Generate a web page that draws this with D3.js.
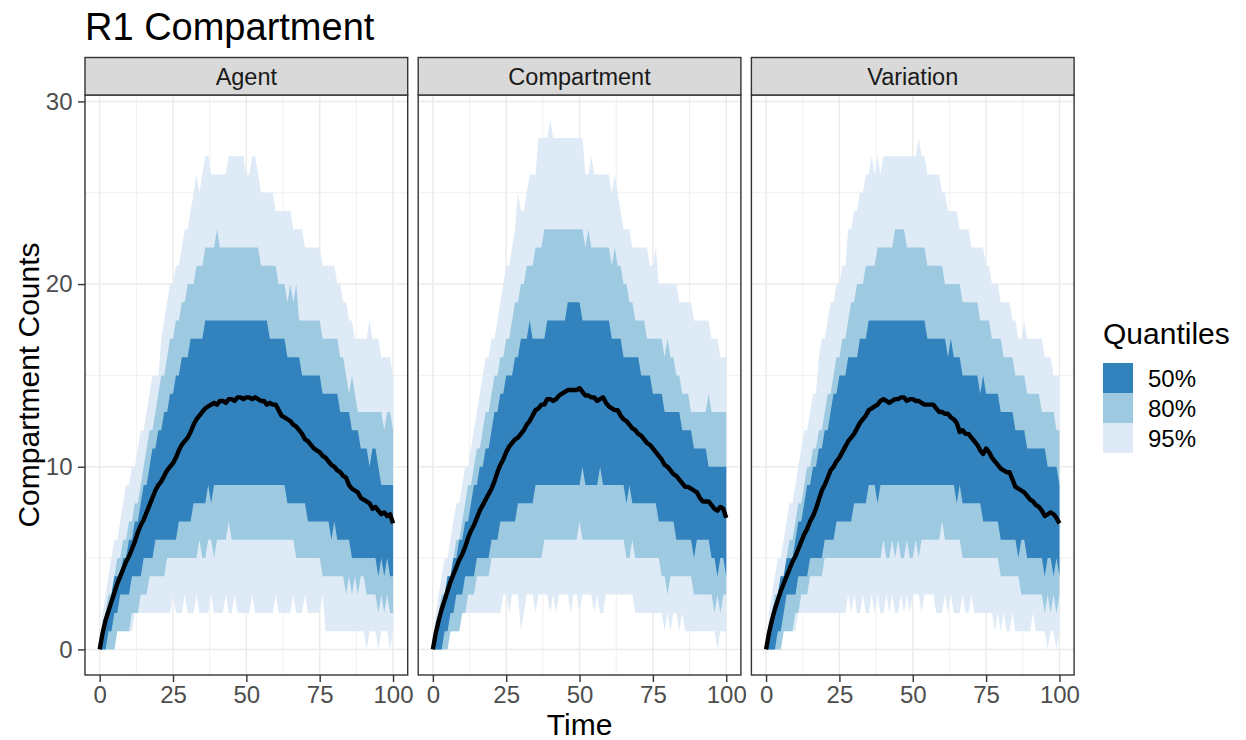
<!DOCTYPE html>
<html>
<head>
<meta charset="utf-8">
<script src="https://cdn.jsdelivr.net/npm/d3@7"></script>
<style>
  body { margin: 0; background: #ffffff; }
  svg text { font-family: "Liberation Sans", Arial, Helvetica, sans-serif; }
</style>
</head>
<body>
<div id="chart"></div>
<script>
var facets = ["Agent", "Compartment", "Variation"];
var quantileLabels = ["50%", "80%", "95%"];
var quantileColors = ["#3182BD", "#9ECAE1", "#DEEBF7"];
var xTicks = [0, 25, 50, 75, 100];
var yTicks = [0, 10, 20, 30];
var time = d3.range(0, 101);

// Agent facet
var agentHi95 = [0,2,3,4,5,6,6,7,8,9, 9,10,10,11,12,12,13,14,15,15, 15,17,18,19,20,20,21,21,22,23, 23,24,25,26,25,26,27,27,26,26, 26,26,26,26,27,27,27,27,27,27, 26,26,27,27,26,25,25,25,25,25, 24,24,24,24,24,24,23,23,23,23, 22,22,22,22,22,22,21,21,21,21, 21,20,20,19,19,18,18,17,17,17, 17,17,18,17,17,17,16,16,16,16,15];
var agentHi80 = [0,1,2,3,3,4,5,5,6,6, 7,7,8,8,9,10,11,12,12,13, 14,15,15,16,17,17,18,18,19,19, 20,20,20,21,21,21,22,22,22,22, 23,22,22,22,22,22,22,22,22,22, 22,22,22,22,22,21,21,21,21,21, 21,20,20,20,19,20,19,20,18,18, 18,18,18,18,18,18,17,17,17,17, 17,17,16,16,15,14,15,14,13,13, 13,13,13,13,13,13,13,12,13,13,12];
var agentHi50 = [0,1,2,2,3,4,4,4,5,5, 6,6,7,7,8,9,9,10,11,11, 12,12,13,13,14,14,15,15,16,16, 16,17,17,17,17,17,18,18,18,18, 18,18,18,18,18,18,18,18,18,18, 18,18,18,18,18,18,18,18,17,17, 17,17,17,17,16,16,16,16,16,15, 15,15,15,15,15,15,14,14,14,14, 14,14,13,13,13,13,12,12,12,11, 11,11,10,11,11,10,9,9,9,9,9];
var agentLo50 = [0,0,0,1,1,2,2,3,3,3, 3,4,4,4,4,5,5,5,5,6, 6,6,6,6,6,6,6,7,7,7, 7,7,8,8,8,8,8,9,8,9, 9,9,9,9,9,9,9,9,9,9, 9,9,9,9,9,9,9,9,9,9, 9,9,9,9,8,8,8,8,8,8, 8,7,7,7,7,7,7,7,7,6, 7,6,6,6,6,6,5,5,5,5, 5,5,5,5,5,4,5,4,5,4,4];
var agentLo80 = [0,0,0,0,0,0,1,1,1,1, 1,2,2,2,3,3,3,4,4,4, 4,4,4,5,5,5,5,5,5,5, 5,5,5,5,6,5,5,6,6,5, 6,6,6,6,7,6,6,6,6,6, 6,6,6,6,6,6,6,6,6,6, 6,6,6,6,6,6,6,5,5,5, 5,5,5,5,5,5,4,4,4,4, 4,4,4,4,3,4,3,4,3,4, 4,3,3,3,3,2,3,2,3,2,2];
var agentLo95 = [0,0,0,0,0,0,1,1,1,1, 1,1,2,2,2,2,2,2,2,2, 2,2,2,2,2,3,2,2,2,3, 2,2,2,3,2,2,2,2,3,2, 2,2,2,3,2,2,3,2,2,2, 2,2,3,2,2,2,2,2,2,2, 3,2,2,2,2,2,3,2,2,2, 3,2,2,2,2,2,3,1,1,1, 1,1,1,1,1,1,1,1,1,1, 1,0,1,1,1,0,1,1,1,0,1];
var agentMean = [0,0.9,1.6,2.1,2.6,3.1,3.6,4.0,4.4,4.8, 5.1,5.5,5.9,6.4,6.8,7.1,7.5,7.9,8.3,8.7, 9.0,9.2,9.5,9.8,10.0,10.2,10.5,10.9,11.2,11.4, 11.6,11.9,12.3,12.6,12.8,13.0,13.2,13.3,13.4,13.5, 13.4,13.6,13.6,13.5,13.7,13.7,13.6,13.8,13.8,13.7, 13.8,13.8,13.7,13.8,13.7,13.6,13.6,13.4,13.5,13.4, 13.4,13.1,12.8,12.7,12.6,12.5,12.3,12.2,12.0,11.8, 11.5,11.4,11.2,11.0,10.9,10.8,10.6,10.5,10.3,10.1, 10.0,9.8,9.7,9.5,9.4,9.0,8.8,8.7,8.6,8.3, 8.2,8.1,8.0,7.7,7.8,7.6,7.4,7.5,7.3,7.4,6.9];

// Compartment facet
var compHi95 = [0,2,3,4,5,5,6,7,8,8, 9,10,10,11,12,13,14,15,16,16, 17,17,18,19,20,21,21,22,23,25, 24,24,25,26,26,26,28,28,28,28, 29,28,28,28,28,28,28,28,28,28, 28,28,26,26,27,26,26,26,26,26, 26,25,26,25,24,23,23,23,22,22, 22,22,22,22,21,21,22,20,20,20, 20,20,20,20,19,19,19,19,19,18, 18,18,18,18,18,17,17,17,16,16,16];
var compHi80 = [0,1,2,3,3,4,4,5,6,6, 7,8,9,9,10,11,11,12,13,13, 14,15,15,16,16,17,17,18,19,19, 20,20,21,21,21,22,22,22,23,23, 23,23,23,23,23,23,23,23,23,23, 23,23,22,23,22,22,22,22,22,22, 22,21,22,21,21,20,20,19,19,18, 18,18,18,17,17,17,17,17,17,16, 17,16,16,15,15,14,14,14,13,13, 13,13,13,13,14,13,13,13,13,13,13];
var compHi50 = [0,1,2,2,3,4,4,5,5,6, 6,7,7,8,9,9,10,10,11,11, 12,13,13,14,14,15,15,15,16,16, 17,17,17,18,17,17,17,17,17,18, 18,18,18,18,18,18,19,19,19,19, 19,18,18,18,18,18,18,18,18,18, 18,17,17,17,17,16,16,16,16,16, 16,15,15,15,15,14,14,14,14,13, 13,13,13,13,13,12,12,12,12,11, 11,11,11,11,10,10,10,10,10,10,10];
var compLo50 = [0,0,0,0,1,1,2,2,3,3, 3,4,4,4,4,5,5,5,5,5, 6,6,6,7,7,7,7,7,7,8, 8,8,8,8,8,9,9,9,9,9, 9,9,9,9,9,9,9,9,9,9, 9,10,9,9,9,9,9,10,9,9, 9,9,9,9,9,9,8,9,8,8, 8,8,8,8,8,8,8,7,7,7, 7,7,7,6,6,6,6,6,6,5, 6,6,6,6,6,5,5,4,5,5,4];
var compLo80 = [0,0,0,0,0,0,1,1,1,1, 2,2,3,3,3,4,4,4,4,4, 5,5,5,5,5,5,5,5,5,5, 5,5,5,5,5,5,5,5,6,6, 6,6,6,6,6,6,6,6,6,6, 7,6,6,6,6,6,6,6,6,6, 6,6,6,6,6,6,5,5,6,5, 5,5,5,5,5,5,5,5,4,4, 3,4,4,4,4,4,4,4,4,3, 3,3,3,3,3,3,2,3,2,3,3];
var compLo95 = [0,0,0,0,0,0,1,1,1,1, 2,2,2,2,2,2,2,2,2,2, 2,2,2,2,3,3,2,3,3,3, 1,2,3,3,3,2,3,3,3,3, 2,3,2,3,3,3,3,2,3,3, 2,3,3,3,3,2,3,2,2,3, 3,3,3,3,3,3,3,3,3,2, 2,2,2,2,2,2,2,2,2,1, 2,1,2,2,1,2,1,1,1,1, 1,1,1,1,1,1,1,0,1,1,1];
var compMean = [0,0.9,1.6,2.2,2.7,3.2,3.7,4.1,4.5,4.9, 5.2,5.6,6.1,6.5,6.8,7.2,7.6,7.9,8.2,8.5, 8.8,9.2,9.7,10.1,10.4,10.8,11.1,11.3,11.5,11.6, 11.8,12.0,12.3,12.5,12.8,13.1,13.2,13.4,13.4,13.7, 13.7,13.6,13.7,13.9,14.0,14.1,14.2,14.2,14.2,14.2, 14.3,14.1,13.9,13.9,13.8,13.8,13.6,13.7,13.8,13.5, 13.3,13.2,13.1,13.1,12.8,12.6,12.5,12.3,12.1,12.0, 11.8,11.7,11.5,11.3,11.2,11.0,10.8,10.6,10.4,10.1, 10.0,9.8,9.6,9.5,9.3,9.1,8.9,8.9,8.8,8.7, 8.6,8.3,8.1,8.1,8.1,7.9,7.7,7.6,7.8,7.7,7.2];

// Variation facet
var varHi95 = [0,2,3,4,5,5,6,7,8,8, 9,10,11,12,12,13,14,14,16,17, 17,18,19,19,20,20,21,21,23,23, 24,24,25,25,26,26,27,26,27,26, 27,27,27,27,27,27,27,27,27,27, 27,27,28,27,27,26,26,26,26,26, 25,25,24,24,24,24,23,23,23,23, 22,22,22,22,22,21,21,20,20,20, 19,19,19,19,18,18,17,17,18,17, 17,17,17,17,17,16,16,16,15,15,15];
var varHi80 = [0,1,2,3,3,4,4,5,6,6, 7,8,8,9,10,10,11,11,12,12, 13,14,14,15,16,16,17,17,18,19, 19,20,20,20,21,21,21,21,22,22, 22,22,22,22,23,23,23,23,22,22, 22,22,22,22,22,21,21,21,21,21, 21,20,20,20,20,20,20,19,19,19, 19,19,19,18,18,18,18,17,17,17, 17,16,16,16,16,15,15,15,15,14, 14,14,14,14,13,13,13,13,13,12,12];
var varHi50 = [0,1,2,2,3,4,4,5,5,5, 6,7,7,8,9,9,10,10,11,11, 12,12,13,14,14,15,15,15,16,16, 16,16,17,17,17,18,18,18,18,18, 18,18,18,18,18,18,18,18,18,18, 18,18,18,18,18,17,17,17,17,17, 17,17,16,17,16,16,16,15,15,15, 15,15,15,14,15,14,14,14,14,14, 13,13,13,13,13,12,12,12,12,11, 11,11,11,11,11,11,10,10,10,10,9];
var varLo50 = [0,0,0,0,1,1,2,3,3,3, 3,4,4,4,4,5,5,5,5,5, 6,6,6,6,7,7,7,7,7,7, 8,8,8,8,8,9,9,9,8,9, 9,9,9,9,9,9,9,9,9,9, 9,9,9,9,9,9,9,9,9,9, 9,9,9,9,9,8,9,8,8,8, 8,8,8,8,7,7,7,7,7,7, 6,6,6,6,6,6,5,6,6,5, 5,5,5,5,5,4,5,5,4,5,4];
var varLo80 = [0,0,0,0,0,0,1,1,1,1, 2,2,3,3,3,4,4,4,4,4, 5,5,5,5,5,5,5,5,5,5, 5,5,5,5,5,5,5,5,5,5, 6,5,5,6,5,6,5,5,6,5, 5,6,5,6,6,6,6,6,6,6, 7,6,6,6,6,6,6,5,5,5, 5,5,5,5,5,5,5,5,5,5, 4,4,4,4,4,4,4,3,3,3, 3,3,3,3,3,2,3,2,3,2,3];
var varLo95 = [0,0,0,0,0,0,1,1,1,1, 1,2,2,2,2,2,2,2,2,2, 2,2,2,2,2,2,2,2,3,2, 3,2,2,3,2,2,3,2,3,2, 2,3,2,3,2,2,3,2,3,2, 3,3,3,2,3,3,3,3,2,2, 2,3,2,3,2,2,2,3,2,2, 3,2,2,2,2,2,2,2,1,2, 1,2,1,1,2,1,1,1,1,1, 1,2,1,1,1,1,0,1,1,0,1];
var varMean = [0,0.9,1.6,2.2,2.7,3.2,3.6,4.0,4.4,4.8, 5.1,5.5,5.9,6.3,6.6,7.0,7.3,7.7,8.2,8.7, 9.0,9.4,9.8,10.0,10.3,10.5,10.8,11.1,11.4,11.6, 11.8,12.1,12.4,12.6,12.8,13.1,13.2,13.3,13.4,13.6, 13.7,13.6,13.5,13.6,13.7,13.7,13.8,13.8,13.6,13.7, 13.7,13.6,13.6,13.5,13.4,13.4,13.4,13.4,13.2,13.0, 13.0,12.9,12.9,12.7,12.6,12.4,11.9,12.0,11.8,11.8, 11.6,11.4,11.2,10.9,10.7,11.0,10.8,10.5,10.3,10.1, 9.9,9.8,9.7,9.7,9.3,8.9,8.8,8.7,8.6,8.4, 8.2,8.1,7.9,7.8,7.6,7.3,7.4,7.5,7.4,7.2,6.9];

var panels = [
  {name: facets[0], lo95: agentLo95, hi95: agentHi95, lo80: agentLo80, hi80: agentHi80, lo50: agentLo50, hi50: agentHi50, mean: agentMean},
  {name: facets[1], lo95: compLo95, hi95: compHi95, lo80: compLo80, hi80: compHi80, lo50: compLo50, hi50: compHi50, mean: compMean},
  {name: facets[2], lo95: varLo95, hi95: varHi95, lo80: varLo80, hi80: varHi80, lo50: varLo50, hi50: varHi50, mean: varMean}
];

// layout
var width = 1246, height = 740;
var panelTop = 95, panelBottom = 675, stripTop = 57.5;
var panelLeft = 85, panelW = 322.7, panelGap = 10.5;
var gridColor = "#EBEBEB", borderColor = "#333333";

var svg = d3.select("#chart")
  .append("svg")
  .attr("width", width)
  .attr("height", height)
  .style("background-color", "#ffffff");

var y = d3.scaleLinear().domain([-1.4, 30.35]).range([panelBottom, panelTop]);

panels.forEach(function(p, i) {
  var left = panelLeft + i * (panelW + panelGap);
  var x = d3.scaleLinear().domain([-5, 105]).range([left, left + panelW]);
  var g = svg.append("g");

  // minor grid
  g.selectAll(".vminor").data([12.5, 37.5, 62.5, 87.5]).enter().append("line")
    .attr("x1", d => x(d)).attr("x2", d => x(d))
    .attr("y1", panelTop).attr("y2", panelBottom)
    .style("stroke", gridColor).style("stroke-width", 0.75);
  g.selectAll(".hminor").data([5, 15, 25]).enter().append("line")
    .attr("x1", left).attr("x2", left + panelW)
    .attr("y1", d => y(d)).attr("y2", d => y(d))
    .style("stroke", gridColor).style("stroke-width", 0.75);

  // major grid
  g.selectAll(".vmajor").data(xTicks).enter().append("line")
    .attr("x1", d => x(d)).attr("x2", d => x(d))
    .attr("y1", panelTop).attr("y2", panelBottom)
    .style("stroke", gridColor).style("stroke-width", 1.5);
  g.selectAll(".hmajor").data(yTicks).enter().append("line")
    .attr("x1", left).attr("x2", left + panelW)
    .attr("y1", d => y(d)).attr("y2", d => y(d))
    .style("stroke", gridColor).style("stroke-width", 1.5);

  // ribbons: 95% first, then 80%, then 50%
  var bands = [
    {lo: p.lo95, hi: p.hi95, color: quantileColors[2]},
    {lo: p.lo80, hi: p.hi80, color: quantileColors[1]},
    {lo: p.lo50, hi: p.hi50, color: quantileColors[0]}
  ];
  bands.forEach(function(b) {
    var area = d3.area()
      .x(function(t) { return x(t); })
      .y0(function(t, k) { return y(b.lo[k]); })
      .y1(function(t, k) { return y(b.hi[k]); });
    g.append("path")
      .datum(time)
      .attr("d", area)
      .style("fill", b.color)
      .style("stroke", "none");
  });

  // mean line
  var line = d3.line()
    .x(function(t) { return x(t); })
    .y(function(t, k) { return y(p.mean[k]); });
  g.append("path")
    .datum(time)
    .attr("d", line)
    .style("fill", "none")
    .style("stroke", "#000000")
    .style("stroke-width", 4.4)
    .style("stroke-linejoin", "round")
    .style("stroke-linecap", "butt");

  // panel border
  g.append("rect")
    .attr("x", left).attr("y", panelTop)
    .attr("width", panelW).attr("height", panelBottom - panelTop)
    .style("fill", "none").style("stroke", borderColor).style("stroke-width", 1.4);

  // strip
  g.append("rect")
    .attr("x", left).attr("y", stripTop)
    .attr("width", panelW).attr("height", panelTop - stripTop)
    .style("fill", "#D9D9D9").style("stroke", borderColor).style("stroke-width", 1.4);
  g.append("text")
    .attr("x", left + panelW / 2).attr("y", 85)
    .attr("text-anchor", "middle")
    .style("font-size", "23.5px").style("fill", "#1A1A1A")
    .text(p.name);

  // x axis
  var xAxis = g.append("g")
    .attr("transform", "translate(0," + panelBottom + ")")
    .call(d3.axisBottom(x).tickValues(xTicks).tickSize(7).tickPadding(3.5));
  xAxis.select(".domain").remove();

  if (i === 0) {
    var yAxis = g.append("g")
      .attr("transform", "translate(" + left + ",0)")
      .call(d3.axisLeft(y).tickValues(yTicks).tickSize(7).tickPadding(5.5));
    yAxis.select(".domain").remove();
  }
});

svg.selectAll(".tick line").style("stroke", borderColor).style("stroke-width", 1.4);
svg.selectAll(".tick text")
  .style("font-family", "'Liberation Sans', Arial, sans-serif")
  .style("font-size", "24px")
  .style("fill", "#4D4D4D");

// title
svg.append("text")
  .attr("x", 85).attr("y", 40)
  .style("font-size", "38px").style("fill", "#000000")
  .text("R1 Compartment");

// axis titles
svg.append("text")
  .attr("x", panelLeft + (3 * panelW + 2 * panelGap) / 2).attr("y", 735)
  .attr("text-anchor", "middle")
  .style("font-size", "30px").style("fill", "#000000")
  .text("Time");
svg.append("text")
  .attr("transform", "translate(39," + ((panelTop + panelBottom) / 2) + ") rotate(-90)")
  .attr("text-anchor", "middle")
  .style("font-size", "30px").style("fill", "#000000")
  .text("Compartment Counts");

// legend
var legend = svg.append("g").attr("transform", "translate(1103,0)");
legend.append("text")
  .attr("x", 0).attr("y", 344)
  .style("font-size", "30px").style("fill", "#000000")
  .text("Quantiles");
legend.selectAll(".key").data(quantileLabels).enter().append("rect")
  .attr("x", 0).attr("y", (d, k) => 363 + k * 30)
  .attr("width", 30).attr("height", 30)
  .style("fill", (d, k) => quantileColors[k]);
legend.selectAll(".key-label").data(quantileLabels).enter().append("text")
  .attr("x", 45).attr("y", (d, k) => 378 + k * 30)
  .attr("dy", "0.36em")
  .style("font-size", "24px").style("fill", "#000000")
  .text(d => d);
</script>
</body>
</html>
